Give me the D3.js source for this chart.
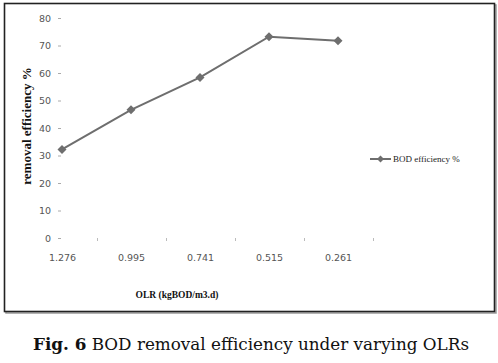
<!DOCTYPE html>
<html>
<head>
<meta charset="utf-8">
<script src="https://cdn.jsdelivr.net/npm/d3@7"></script>
<style>
  body { margin: 0; background: #fff; }
  svg { display: block; }
</style>
</head>
<body>
<svg id="chart" width="498" height="363"></svg>
<script>
// chart data
const categories = ["1.276", "0.995", "0.741", "0.515", "0.261"];
const bodEfficiency = [32.2, 46.6, 58.4, 73.2, 71.7];
const yTicks = [0, 10, 20, 30, 40, 50, 60, 70, 80];
const seriesName = "BOD efficiency %";

const svg = d3.select("#chart");
const grey = "#6e6e6e";

// outer frame with a little shadow
svg.append("rect")
    .attr("x", 6).attr("y", 5)
    .attr("width", 490).attr("height", 308)
    .attr("fill", "none").attr("stroke", "#999").attr("stroke-width", 1.5);
svg.append("rect")
    .attr("x", 4.5).attr("y", 3.5)
    .attr("width", 490).attr("height", 308)
    .attr("fill", "#fff").attr("stroke", "#222").attr("stroke-width", 1.6);

const x = d3.scalePoint()
    .domain(categories)
    .range([62, 338]);

const y = d3.scaleLinear()
    .domain([0, 80])
    .range([238, 18]);

// y axis: labels only plus tiny dashes
const yAxis = d3.axisLeft(y)
    .tickValues(yTicks)
    .tickSize(3)
    .tickPadding(7);

const gy = svg.append("g")
    .attr("transform", "translate(61,0)")
    .call(yAxis);
gy.select(".domain").remove();
gy.selectAll(".tick line").attr("stroke", "#aaa");
gy.selectAll(".tick text")
    .attr("fill", "#555")
    .style("font-family", "'DejaVu Sans', sans-serif")
    .style("font-size", "9.5px");

// x axis
const xAxis = d3.axisBottom(x)
    .tickSize(3)
    .tickPadding(13);

const gx = svg.append("g")
    .attr("transform", "translate(0,238)")
    .call(xAxis);
gx.select(".domain").remove();
gx.selectAll(".tick line")
    .attr("stroke", "#bbb")
    .attr("transform", `translate(${x.step() / 2 + 0.5},0)`);
gx.selectAll(".tick text")
    .attr("fill", "#555")
    .style("font-family", "'DejaVu Sans', sans-serif")
    .style("font-size", "9.5px");

// series line
const line = d3.line()
    .x((d, i) => x(categories[i]))
    .y(d => y(d));

svg.append("path")
    .datum(bodEfficiency)
    .attr("d", line)
    .attr("fill", "none")
    .attr("stroke", grey)
    .attr("stroke-width", 2);

// square diamond marker
const diamond = r => `M0,${-r}L${r},0L0,${r}L${-r},0Z`;

svg.selectAll(".pt")
    .data(bodEfficiency)
    .join("path")
    .attr("class", "pt")
    .attr("d", diamond(4.5))
    .attr("transform", (d, i) => `translate(${x(categories[i])},${y(d)})`)
    .attr("fill", grey);

// axis titles
svg.append("text")
    .attr("transform", "translate(31,126) rotate(-90)")
    .attr("text-anchor", "middle")
    .style("font-family", "'Liberation Serif', serif")
    .style("font-weight", "bold")
    .style("font-size", "13px")
    .attr("fill", "#111")
    .text("removal efficiency %");

svg.append("text")
    .attr("x", 177).attr("y", 298)
    .attr("text-anchor", "middle")
    .style("font-family", "'Liberation Serif', serif")
    .style("font-weight", "bold")
    .style("font-size", "9.5px")
    .attr("fill", "#111")
    .text("OLR (kgBOD/m3.d)");

// legend
const lg = svg.append("g").attr("transform", "translate(370,159)");
lg.append("line")
    .attr("x1", 0).attr("x2", 21)
    .attr("stroke", grey).attr("stroke-width", 2);
lg.append("path")
    .attr("d", diamond(3.5))
    .attr("transform", "translate(10.5,0)")
    .attr("fill", grey);
lg.append("text")
    .attr("x", 23).attr("y", 3)
    .style("font-family", "'Liberation Serif', serif")
    .style("font-size", "9px")
    .attr("fill", "#222")
    .text(seriesName);

// caption
const cap = svg.append("text")
    .attr("x", 251).attr("y", 350)
    .attr("text-anchor", "middle")
    .style("font-family", "'DejaVu Serif', serif")
    .style("font-size", "16.8px")
    .attr("fill", "#111");
cap.append("tspan").style("font-weight", "bold").text("Fig. 6");
cap.append("tspan").text(" BOD removal efficiency under varying OLRs");
</script>
</body>
</html>
